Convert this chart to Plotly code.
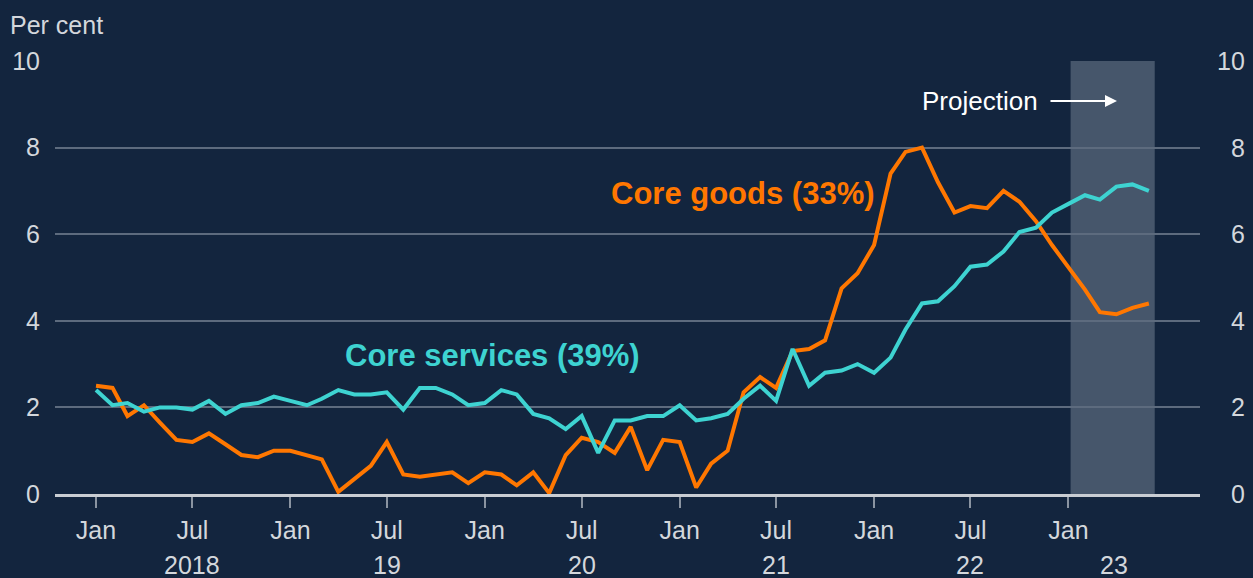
import plotly.graph_objects as go
import pandas as pd

# monthly, Jan 2018 - Jun 2023 (Jan 2023 onwards is projection)
months = pd.date_range("2018-01-01", "2023-06-01", freq="MS")

core_goods = [
    2.5, 2.45, 1.8, 2.05, 1.65, 1.25, 1.2, 1.4, 1.15, 0.9, 0.85, 1.0,
    1.0, 0.9, 0.8, 0.05, 0.35, 0.65, 1.2, 0.45, 0.4, 0.45, 0.5, 0.25,
    0.5, 0.45, 0.2, 0.5, 0.02, 0.9, 1.3, 1.2, 0.95, 1.55, 0.55, 1.25,
    1.2, 0.15, 0.7, 1.0, 2.35, 2.7, 2.45, 3.3, 3.35, 3.55, 4.75, 5.1,
    5.75, 7.4, 7.9, 8.0, 7.2, 6.5, 6.65, 6.6, 7.0, 6.75, 6.3, 5.75,
    5.25, 4.72, 4.2, 4.15, 4.3, 4.4,
]

core_services = [
    2.4, 2.05, 2.1, 1.9, 2.0, 2.0, 1.95, 2.15, 1.85, 2.05, 2.1, 2.25,
    2.15, 2.05, 2.2, 2.4, 2.3, 2.3, 2.35, 1.95, 2.45, 2.45, 2.3, 2.05,
    2.1, 2.4, 2.3, 1.85, 1.75, 1.5, 1.8, 0.95, 1.7, 1.7, 1.8, 1.8,
    2.05, 1.7, 1.75, 1.85, 2.2, 2.5, 2.15, 3.35, 2.5, 2.8, 2.85, 3.0,
    2.8, 3.15, 3.8, 4.4, 4.45, 4.8, 5.25, 5.3, 5.6, 6.05, 6.15, 6.5,
    6.7, 6.9, 6.8, 7.1, 7.15, 7.0,
]

tick_dates = pd.date_range("2018-01-01", "2023-01-01", freq="6MS")
tick_labels = ["Jan" if d.month == 1 else "Jul" for d in tick_dates]
year_labels = ["2018", "19", "20", "21", "22", "23"]
year_pos = ["2018-07-01", "2019-07-01", "2020-07-01", "2021-07-01",
            "2022-07-01", "2023-03-28"]
y_ticks = [0, 2, 4, 6, 8, 10]

bg = "#13253e"
txt = "#d3d7dc"
orange = "#ff7700"
cyan = "#3ed3d1"
font = "Arial, Liberation Sans, sans-serif"
fs = 25

fig = go.Figure()

# projection band
fig.add_vrect(x0="2023-01-05", x1="2023-06-12", fillcolor="#46566b",
              opacity=1, line_width=0, layer="below")

fig.add_trace(go.Scatter(x=months, y=core_goods, mode="lines",
                         line=dict(color=orange, width=4), name="Core goods"))
fig.add_trace(go.Scatter(x=months, y=core_services, mode="lines",
                         line=dict(color=cyan, width=4), name="Core services"))

fig.update_xaxes(
    range=["2017-10-16", "2023-09-05"],
    tickvals=tick_dates, ticktext=tick_labels,
    showgrid=False, zeroline=False,
    showline=True, linecolor="#c9cdd3", linewidth=3,
    ticks="outside", ticklen=11, tickwidth=1.5, tickcolor="#8a94a1",
    tickfont=dict(size=fs, color=txt, family=font),
    ticklabelstandoff=1,
)
fig.update_yaxes(
    range=[0, 10], tickvals=y_ticks,
    showgrid=True, gridcolor="#5d6b7e", gridwidth=1.5,
    zeroline=False, showline=False, ticks="",
    tickfont=dict(size=fs, color=txt, family=font),
    ticklabelstandoff=14,
)

annotations = []
for t in y_ticks:
    annotations.append(dict(x=1.041, y=t, xref="paper", yref="y", text=str(t),
                            showarrow=False, xanchor="right",
                            font=dict(size=fs, color=txt, family=font)))
for lab, pos in zip(year_labels, year_pos):
    annotations.append(dict(x=pos, y=-0.164, xref="x", yref="paper", text=lab,
                            showarrow=False, yanchor="middle",
                            font=dict(size=fs, color=txt, family=font)))

annotations += [
    dict(x=-0.041, y=1.083, xref="paper", yref="paper", text="Per cent",
         showarrow=False, xanchor="left", yanchor="middle",
         font=dict(size=fs, color=txt, family=font)),
    dict(x=0.601, y=0.695, xref="paper", yref="paper", text="<b>Core goods (33%)</b>",
         showarrow=False, yanchor="middle", font=dict(size=31, color=orange, family=font)),
    dict(x=0.3817, y=0.321, xref="paper", yref="paper", text="<b>Core services (39%)</b>",
         showarrow=False, yanchor="middle", font=dict(size=31, color=cyan, family=font)),
    dict(x=0.860, y=0.9076, xref="paper", yref="paper", text="Projection",
         showarrow=False, xanchor="right", yanchor="middle",
         font=dict(size=26, color="#ffffff", family=font)),
    dict(x=0.9275, y=0.9076, xref="paper", yref="paper", text="",
         showarrow=True, ax=-68, ay=0, arrowhead=2, arrowsize=1.2,
         arrowwidth=2, arrowcolor="#ffffff"),
]

fig.update_layout(
    width=1253, height=578,
    paper_bgcolor=bg, plot_bgcolor=bg,
    showlegend=False,
    margin=dict(l=55, r=53, t=61, b=84),
    annotations=annotations,
    font=dict(family=font, color=txt),
)

# drop the default page margin so the figure fills the window
fig.write_html("out.html", config={"displayModeBar": False},
               post_script="document.body.style.margin='0';document.body.style.background='%s';" % bg)
